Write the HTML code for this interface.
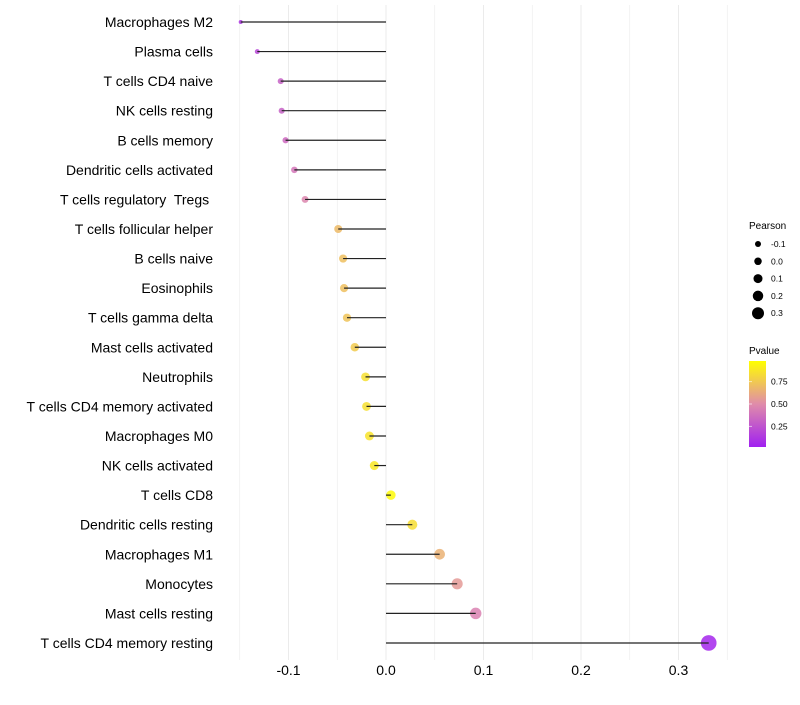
<!DOCTYPE html>
<html><head><meta charset="utf-8"><style>
body{margin:0;background:#fff;font-family:"Liberation Sans",sans-serif}
text{white-space:pre}
</style></head><body>
<svg id="c" width="800" height="700" xmlns="http://www.w3.org/2000/svg"></svg>
<script>
const categories=["Macrophages M2","Plasma cells","T cells CD4 naive","NK cells resting","B cells memory","Dendritic cells activated","T cells regulatory  Tregs ","T cells follicular helper","B cells naive","Eosinophils","T cells gamma delta","Mast cells activated","Neutrophils","T cells CD4 memory activated","Macrophages M0","NK cells activated","T cells CD8","Dendritic cells resting","Macrophages M1","Monocytes","Mast cells resting","T cells CD4 memory resting"];
const pearson=[-0.149,-0.132,-0.108,-0.107,-0.103,-0.094,-0.083,-0.049,-0.044,-0.043,-0.040,-0.032,-0.021,-0.020,-0.017,-0.012,0.005,0.027,0.055,0.073,0.092,0.331];
const pvalues=[0.1,0.18,0.3,0.3,0.34,0.4,0.47,0.7,0.72,0.72,0.74,0.77,0.86,0.86,0.88,0.9,0.98,0.85,0.66,0.56,0.45,0.03];
const xTicks=[-0.1,0,0.1,0.2,0.3];
const xTickLabels=["-0.1","0.0","0.1","0.2","0.3"];
const legendPearson=[-0.1,0,0.1,0.2,0.3];
const legendP=[0.25,0.5,0.75];
const NS="http://www.w3.org/2000/svg";
const svg=document.getElementById('c');
const x=v=>386+v*975;
const y=i=>22+i*29.57;
const r=v=>Math.sqrt(4+119*(v+0.15));
const pMin=0.0,pMax=1.0;
function col(p){const t=Math.max(0,Math.min(1,(p-pMin)/(pMax-pMin)));
 const s=[[0,[160,32,240]],[0.5,[224,140,170]],[1,[255,255,0]]];
 let a=s[0],b=s[1];if(t>0.5){a=s[1];b=s[2];}
 const u=(t-a[0])/(b[0]-a[0]);
 return 'rgb('+a[1].map((c,k)=>Math.round(c+(b[1][k]-c)*u)).join(',')+')';}
function mk(tag,at,txt){const e=document.createElementNS(NS,tag);for(const k in at)e.setAttribute(k,at[k]);if(txt!==undefined)e.textContent=txt;svg.appendChild(e);return e;}
for(let v=-0.15;v<=0.351;v+=0.05){const g=mk('line',{x1:x(v),x2:x(v),y1:5,y2:660,stroke:'#ebebeb','stroke-width':Math.abs(Math.round(v*100)%10)===0?1:0.6});

}
xTicks.forEach((v,i)=>{const t=mk('text',{x:x(v),y:675,'text-anchor':'middle','font-size':14,fill:'#000'},xTickLabels[i]);

});
categories.forEach((c,i)=>{
 const t=mk('text',{x:213,y:y(i)+5,'text-anchor':'end','font-size':14,fill:'#000'},c);
 
 
 const d=mk('circle',{cx:x(pearson[i]),cy:y(i),r:r(pearson[i]),fill:col(pvalues[i]),'fill-opacity':0.85});
 
 
 const l=mk('line',{x1:x(0),x2:x(pearson[i]),y1:y(i),y2:y(i),stroke:'#222','stroke-width':1.2});
 
 
});
let t=mk('text',{x:749,y:229,'font-size':10},'Pearson');


legendPearson.forEach((v,i)=>{const cy=244+i*17.3;
 const c=mk('circle',{cx:758,cy:cy,r:3+(v+0.1)*7.5,fill:'#000'});
 
 
 const tt=mk('text',{x:771,y:cy+3,'font-size':8.5},xTickLabels[i]);
 
 });
t=mk('text',{x:749,y:354,'font-size':10},'Pvalue');


const defs=mk('defs',{});const lg=document.createElementNS(NS,'linearGradient');
lg.setAttribute('id','g');lg.setAttribute('x1','0');lg.setAttribute('y1','1');lg.setAttribute('x2','0');lg.setAttribute('y2','0');
[0,0.25,0.5,0.75,1].forEach(o=>{const s=document.createElementNS(NS,'stop');s.setAttribute('offset',o);s.setAttribute('stop-color',col(pMin+o*(pMax-pMin)));lg.appendChild(s);});
defs.appendChild(lg);
const cb=mk('rect',{x:749,y:361,width:17,height:86,fill:'url(#g)'});


const cy=p=>447-(p-0.02)/(0.98-0.02)*86;
legendP.forEach(p=>{const tk=mk('line',{x1:749,x2:752,y1:cy(p),y2:cy(p),stroke:'#fff','stroke-opacity':0.6});
 
 
 const tt=mk('text',{x:771,y:cy(p)+3,'font-size':8.5},p.toFixed(2));
 
 });
</script>
</body></html>
